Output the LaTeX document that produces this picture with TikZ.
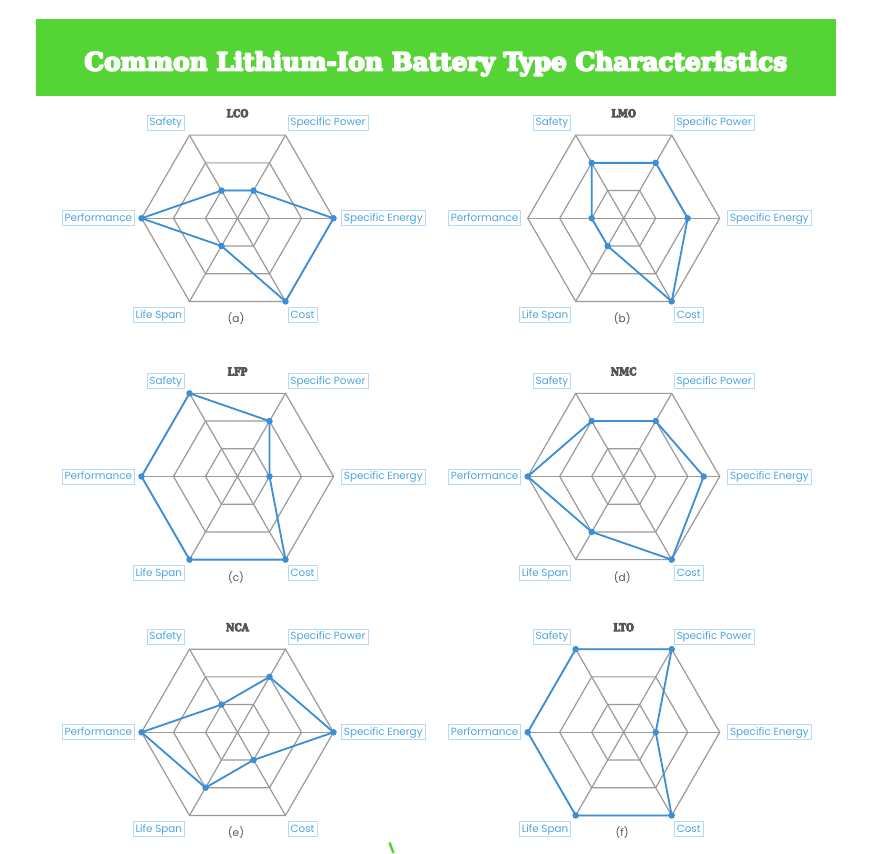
\documentclass[tikz,border=0pt]{standalone}
\usepackage{fontspec}
\usepackage{graphicx}
\newfontfamily\labelfont{Poppins}
\newfontfamily\slabfont{DejaVu Serif}
\newcommand{\heavytext}[2]{\special{pdf:literal direct #1 w 1 j 2 Tr}#2\special{pdf:literal direct 0 Tr}}
\definecolor{barGreen}{HTML}{55D435}
\definecolor{gridGray}{HTML}{9A9A9A}
\definecolor{dataBlue}{HTML}{3A8FD6}
\definecolor{labelBlue}{HTML}{4EA5E0}
\definecolor{labelBorder}{HTML}{B5DAF3}
\definecolor{titleGray}{HTML}{555555}
\tikzset{
  gridline/.style={draw=gridGray, line width=1.2pt},
  dataline/.style={draw=dataBlue, line width=1.8pt, line join=round},
  datadot/.style={circle, fill=dataBlue, inner sep=0pt, minimum size=6.5pt},
  axislabel/.style={draw=labelBorder, line width=0.8pt, text=labelBlue,
    font=\labelfont\fontsize{10.4}{11}\selectfont, inner xsep=2.5pt, inner ysep=0pt,
    minimum height=15pt, text height=8pt, text depth=2.2pt},
  charttitle/.style={text=titleGray, font=\slabfont\bfseries\fontsize{10.8}{12}\selectfont, inner sep=0pt},
  captiontext/.style={text=titleGray, font=\labelfont\fontsize{10.5}{12}\selectfont, inner sep=0pt},
}
\newcommand{\radarchart}[5]{%
  \begin{scope}[shift={#2}]
    \foreach \r in {32,64,96}{\draw[gridline] (0:\r) -- (60:\r) -- (120:\r) -- (180:\r) -- (240:\r) -- (300:\r) -- cycle;}
    \foreach \a in {0,60,...,300}{\draw[gridline] (0,0) -- (\a:96);}
    \foreach \v [count=\i from 0] in {#5}{\coordinate (#1v\i) at ({\i*60}:{\v*32});}
    \draw[dataline] (#1v0) -- (#1v1) -- (#1v2) -- (#1v3) -- (#1v4) -- (#1v5) -- cycle;
    \foreach \i in {0,...,5}{\node[datadot] (#1d\i) at (#1v\i) {};}
    \node[axislabel, anchor=west] (#1se) at (103.5,0) {Specific Energy};
    \node[axislabel, anchor=south west] (#1sp) at (50,87.3) {Specific Power};
    \node[axislabel, anchor=south east] (#1sa) at (-52.5,87.3) {Safety};
    \node[axislabel, anchor=east] (#1pe) at (-102.5,0) {Performance};
    \node[axislabel, anchor=north west] (#1co) at (50.2,-89) {Cost};
    \node[axislabel, anchor=north east] (#1ls) at (-52.5,-89) {Life Span};
    \node[charttitle] (#1t) at (0,105) {\scalebox{0.85}[1]{\heavytext{0.9}{#3}}};
    \node[captiontext] (#1c) at (-1.5,-100.7) {#4};
  \end{scope}}
\begin{document}
\begin{tikzpicture}[x=1pt,y=1pt]
  \useasboundingbox (0,0) rectangle (877,853);
  \fill[white] (0,0) rectangle (877,853);
  \fill[barGreen] (36,757.3) rectangle (836,834);
  \node[anchor=base, text=white, inner sep=0pt] (title) at (435.8,782.5)
    {\resizebox{703pt}{\height}{\slabfont\bfseries\fontsize{25}{28}\selectfont\heavytext{1.9}{Common Lithium-Ion Battery Type Characteristics}}};
  \radarchart{a}{(237.5,634.7)}{LCO}{(a)}{3,1,1,3,1,3}
  \radarchart{b}{(623.7,634.7)}{LMO}{(b)}{2,2,2,1,1,3}
  \radarchart{c}{(237.5,376.5)}{LFP}{(c)}{1,2,3,3,3,3}
  \radarchart{d}{(623.7,376.5)}{NMC}{(d)}{2.5,2,2,3,2,3}
  \radarchart{e}{(237.5,120.7)}{NCA}{(e)}{3,2,1,3,2,1}
  \radarchart{f}{(623.7,120.7)}{LTO}{(f)}{1,3,3,3,3,3}
  \coordinate (gs1) at (389.5,10.5);
  \coordinate (gs2) at (393.5,0);
  \draw[barGreen, line width=2.5pt] (gs1) -- (gs2);
\end{tikzpicture}
\end{document}
